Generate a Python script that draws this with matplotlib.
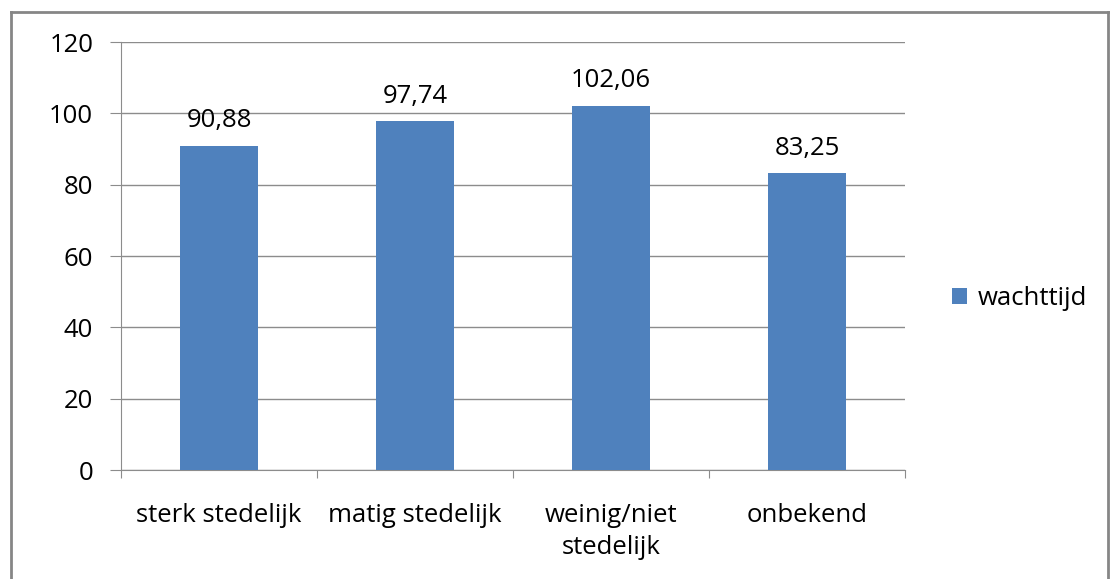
import matplotlib
matplotlib.use('Agg')
import matplotlib.pyplot as plt
from matplotlib.lines import Line2D
import numpy as np

categories = ['sterk stedelijk', 'matig stedelijk', 'weinig/niet\nstedelijk', 'onbekend']
wachttijd = [90.88, 97.74, 102.06, 83.25]
labels = ['90,88', '97,74', '102,06', '83,25']
yticks = [0, 20, 40, 60, 80, 100, 120]

plt.rcParams['font.family'] = ['Open Sans', 'DejaVu Sans']
fs = 18.5

fig = plt.figure(figsize=(11.11, 5.79), dpi=100)
ax = fig.add_axes([121 / 1111, 1 - 470 / 579, (905 - 121) / 1111, (470 - 42) / 579])

x = np.arange(len(categories))
bars = ax.bar(x, wachttijd, width=0.4, color='#4F81BD', label='wachttijd', zorder=3)

for b, lab in zip(bars, labels):
    ax.annotate(lab, (b.get_x() + b.get_width() / 2, b.get_height()),
                xytext=(0, 9), textcoords='offset points',
                ha='center', va='bottom', fontsize=fs)

ax.set_xlim(-0.5, len(categories) - 0.5)
ax.set_ylim(0, 120)
ax.set_yticks(yticks)
ax.set_yticklabels([str(v) for v in yticks], fontsize=fs)
ax.yaxis.grid(True, color='#8C8C8C', linewidth=1.0, zorder=0)
ax.tick_params(axis='y', length=8, color='#8C8C8C', pad=12)

ax.set_xticks(np.arange(-0.5, len(categories), 1.0))
ax.set_xticklabels([])
ax.set_xticks(x, minor=True)
ax.set_xticklabels(categories, minor=True, fontsize=fs, linespacing=1.35)
ax.tick_params(axis='x', which='major', length=6, color='#8C8C8C')
ax.tick_params(axis='x', which='minor', length=0, pad=24)

for side in ['top', 'right']:
    ax.spines[side].set_visible(False)
for side in ['left', 'bottom']:
    ax.spines[side].set_color('#8C8C8C')

ax.legend(loc='center left', bbox_to_anchor=(1.03, 0.4), frameon=False,
          fontsize=fs, handlelength=0.6, handleheight=0.6, handletextpad=0.4)

# chart border
bc = '#868686'
fig.add_artist(Line2D([11 / 1111, 1108 / 1111], [1 - 12 / 579, 1 - 12 / 579], color=bc, lw=2))
fig.add_artist(Line2D([11 / 1111, 11 / 1111], [1 - 12 / 579, 0], color=bc, lw=2))
fig.add_artist(Line2D([1108 / 1111, 1108 / 1111], [1 - 12 / 579, 0], color=bc, lw=2))

fig.savefig('out.png', dpi=100)
